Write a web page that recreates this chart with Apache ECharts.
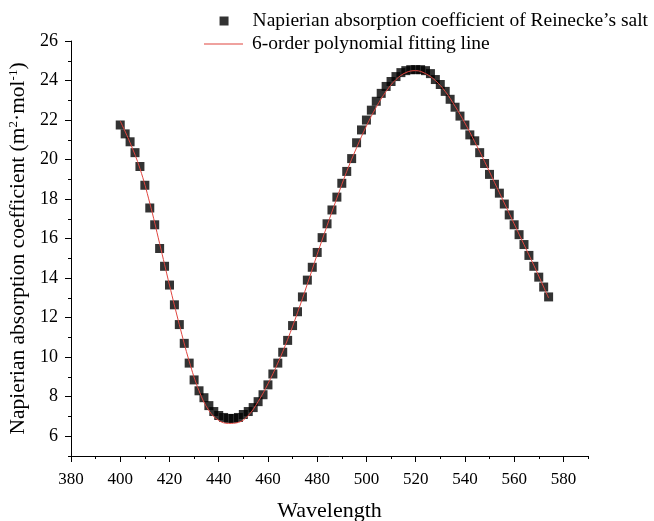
<!DOCTYPE html>
<html>
<head>
<meta charset="utf-8">
<script src="https://cdn.jsdelivr.net/npm/echarts@6/dist/echarts.min.js"></script>
<style>
  html, body { margin: 0; padding: 0; background: #fff; }
  #chart { width: 654px; height: 521px; }
</style>
</head>
<body>
<div id="chart"></div>
<script>
// Measured wavelengths (nm), every 2 nm
const wavelengths = [
  400, 402, 404, 406, 408, 410, 412, 414, 416, 418,
  420, 422, 424, 426, 428, 430, 432, 434, 436, 438,
  440, 442, 444, 446, 448, 450, 452, 454, 456, 458,
  460, 462, 464, 466, 468, 470, 472, 474, 476, 478,
  480, 482, 484, 486, 488, 490, 492, 494, 496, 498,
  500, 502, 504, 506, 508, 510, 512, 514, 516, 518,
  520, 522, 524, 526, 528, 530, 532, 534, 536, 538,
  540, 542, 544, 546, 548, 550, 552, 554, 556, 558,
  560, 562, 564, 566, 568, 570, 572, 574
];

// Napierian absorption coefficient (m^2/mol) at each wavelength
const absorption = [
  21.75, 21.3, 20.9, 20.35, 19.65, 18.7, 17.55, 16.7, 15.5, 14.6,
  13.65, 12.65, 11.65, 10.7, 9.7, 8.85, 8.3, 7.95, 7.55, 7.25,
  7.05, 6.95, 6.9, 6.9, 6.95, 7.1, 7.25, 7.45, 7.75, 8.1,
  8.6, 9.15, 9.7, 10.25, 10.85, 11.6, 12.3, 13.05, 13.9, 14.55,
  15.3, 16.05, 16.75, 17.45, 18.1, 18.8, 19.4, 20.05, 20.85, 21.5,
  22.0, 22.5, 22.95, 23.35, 23.7, 23.95, 24.2, 24.4, 24.5, 24.55,
  24.55, 24.55, 24.5, 24.35, 24.05, 23.8, 23.45, 23.05, 22.65, 22.2,
  21.75, 21.25, 20.95, 20.35, 19.8, 19.25, 18.75, 18.3, 17.75, 17.2,
  16.7, 16.2, 15.7, 15.15, 14.6, 14.05, 13.55, 13.05
];

// Polynomial fitting curve, sampled wavelengths and values
const fitWavelengths = [
  400, 404, 408, 412, 416, 420, 424, 428, 432, 436,
  440, 444, 448, 452, 456, 460, 464, 468, 472, 476,
  480, 484, 488, 492, 496, 500, 504, 508, 512, 516,
  520, 524, 528, 532, 536, 540, 544, 548, 552, 556,
  560, 564, 568, 572, 574
];
const fitValues = [
  21.95, 20.85, 19.55, 17.8, 15.75, 13.65, 11.65, 9.8, 8.3, 7.3,
  6.8, 6.65, 6.7, 7.05, 7.75, 8.65, 9.7, 10.9, 12.25, 13.7,
  15.2, 16.65, 18.05, 19.4, 20.6, 21.7, 22.65, 23.45, 24.05, 24.4,
  24.5, 24.35, 24.0, 23.45, 22.7, 21.85, 20.9, 19.9, 18.85, 17.8,
  16.75, 15.7, 14.65, 13.55, 13.0
];

// Axis ticks
const xMajorTicks = [380, 400, 420, 440, 460, 480, 500, 520, 540, 560, 580];
const xMinorTicks = [390, 410, 430, 450, 470, 490, 510, 530, 550, 570, 590];
const yMajorTicks = [6, 8, 10, 12, 14, 16, 18, 20, 22, 24, 26];
const yMinorTicks = [5, 7, 9, 11, 13, 15, 17, 19, 21, 23, 25];

const seriesNames = [
  'Napierian absorption coefficient of Reinecke\u2019s salt',
  '6-order polynomial fitting line'
];

const FONT = 'Liberation Serif, Times New Roman, serif';
const AX_MIN_X = 380, AX_MAX_X = 590, AX_MIN_Y = 5, AX_MAX_Y = 26;
const FIT_COLOR = '#e0453f';

const chart = echarts.init(document.getElementById('chart'), null, { renderer: 'canvas' });

const legendText = { fontFamily: FONT, fontSize: 19.5, color: '#000', padding: [0, 0, 0, 4] };

const option = {
  backgroundColor: '#fff',
  animation: false,
  grid: {
    left: 71, right: 66, top: 41, bottom: 65,
    containLabel: false, outerBoundsMode: 'none'
  },
  legend: [
    {
      data: [{ name: seriesNames[0], icon: 'path://M0,0h10v10h-10z' }],
      right: 6, top: 11, padding: 0,
      itemWidth: 39, itemHeight: 9,
      itemStyle: { color: '#000' },
      textStyle: Object.assign({}, legendText, { width: 396, overflow: 'none' })
    },
    {
      data: [{ name: seriesNames[1], icon: 'path://M0,0h39v1h-39z' }],
      left: 204, top: 34, padding: 0,
      itemWidth: 39, itemHeight: 9,
      itemStyle: { color: FIT_COLOR },
      textStyle: legendText
    }
  ],
  xAxis: [
    {
      type: 'value', min: AX_MIN_X, max: AX_MAX_X,
      name: 'Wavelength', nameLocation: 'middle', nameGap: 44,
      nameTextStyle: { fontFamily: FONT, fontSize: 22, color: '#000' },
      axisLine: { show: true, lineStyle: { color: '#000', width: 1 } },
      axisTick: { show: true, length: 6, customValues: xMajorTicks, lineStyle: { color: '#000', width: 1 } },
      axisLabel: { customValues: xMajorTicks, fontFamily: FONT, fontSize: 17, color: '#000', margin: 15 },
      splitLine: { show: false }
    },
    {
      type: 'value', min: AX_MIN_X, max: AX_MAX_X, position: 'bottom',
      axisLine: { show: false },
      axisTick: { show: true, length: 3, customValues: xMinorTicks, lineStyle: { color: '#000', width: 1 } },
      axisLabel: { show: false },
      splitLine: { show: false }
    }
  ],
  yAxis: [
    {
      type: 'value', min: AX_MIN_Y, max: AX_MAX_Y,
      name: 'Napierian absorption coefficient (m{sup|2}\u00b7mol{sup|-1})',
      nameLocation: 'middle', nameRotate: 90, nameGap: 29,
      nameTextStyle: {
        fontFamily: FONT, fontSize: 21.5, color: '#000',
        rich: { sup: { fontFamily: FONT, fontSize: 13, color: '#000', verticalAlign: 'top', padding: [0, 0, 8, 0] } }
      },
      axisLine: { show: true, lineStyle: { color: '#000', width: 1 } },
      axisTick: { show: true, length: 6, customValues: yMajorTicks, lineStyle: { color: '#000', width: 1 } },
      axisLabel: { customValues: yMajorTicks, fontFamily: FONT, fontSize: 18, color: '#000', margin: 13 },
      splitLine: { show: false }
    },
    {
      type: 'value', min: AX_MIN_Y, max: AX_MAX_Y, position: 'left',
      axisLine: { show: false },
      axisTick: { show: true, length: 3, customValues: yMinorTicks, lineStyle: { color: '#000', width: 1 } },
      axisLabel: { show: false },
      splitLine: { show: false }
    }
  ],
  series: [
    {
      name: seriesNames[0],
      type: 'scatter',
      xAxisIndex: 0, yAxisIndex: 0,
      symbol: 'rect', symbolSize: 9,
      itemStyle: { color: '#000' },
      data: wavelengths.map((w, i) => [w, absorption[i]]),
      z: 2
    },
    {
      name: seriesNames[1],
      type: 'line',
      xAxisIndex: 0, yAxisIndex: 0,
      showSymbol: false, symbol: 'none',
      smooth: 0.4,
      lineStyle: { color: FIT_COLOR, width: 1 },
      itemStyle: { color: FIT_COLOR },
      data: fitWavelengths.map((w, i) => [w, fitValues[i]]),
      z: 3
    }
  ]
};

chart.setOption(option);
</script>
</body>
</html>
